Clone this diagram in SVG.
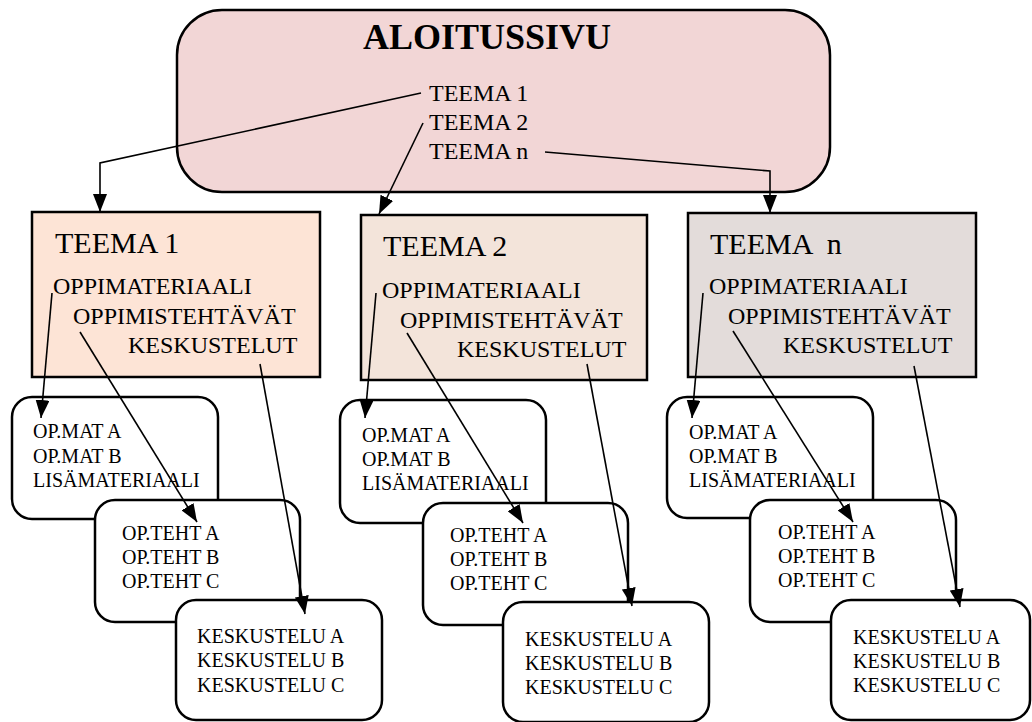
<svg xmlns="http://www.w3.org/2000/svg" width="1032" height="722" viewBox="0 0 1032 722">
  <style>
    text { font-family: "Liberation Serif", "Times New Roman", serif; fill: #000; }
    .title { font-size: 36px; font-weight: bold; }
    .toc { font-size: 24px; }
    .head { font-size: 30px; }
    .item { font-size: 24px; }
    .sub { font-size: 20px; }
    .box { stroke: #000; stroke-width: 2.5; }
    .small { fill: #fff; stroke: #000; stroke-width: 2.5; }
    .link { fill: none; stroke: #000; stroke-width: 1.6; marker-end: url(#arrow); }
  </style>
  <defs>
    <marker id="arrow" viewBox="0 0 18 14" refX="18" refY="7" markerWidth="18" markerHeight="14" markerUnits="userSpaceOnUse" orient="auto">
      <path d="M0,0 L18,7 L0,14 Z" fill="#000"/>
    </marker>
  </defs>
  <rect width="1032" height="722" fill="#fff"/>

  <!-- Start page -->
  <g id="aloitussivu">
    <rect class="box" x="177" y="10" width="653" height="182" rx="45" ry="45" fill="#f2d6d6"/>
    <text class="title" x="487" y="49" text-anchor="middle">ALOITUSSIVU</text>
    <text class="toc" x="429" y="101">TEEMA 1</text>
    <text class="toc" x="429" y="130">TEEMA 2</text>
    <text class="toc" x="429" y="159">TEEMA n</text>
  </g>

  <!-- Theme pages -->
  <g id="teema1">
    <rect class="box" x="32" y="212" width="288" height="165" fill="#fde4d6"/>
    <text class="head" x="55" y="253">TEEMA 1</text>
    <text class="item" x="53" y="294">OPPIMATERIAALI</text>
    <text class="item" x="73" y="324">OPPIMISTEHTÄVÄT</text>
    <text class="item" x="128" y="353">KESKUSTELUT</text>
  </g>
  <g id="teema2">
    <rect class="box" x="361" y="215" width="286" height="165" fill="#f3e4da"/>
    <text class="head" x="383" y="256">TEEMA 2</text>
    <text class="item" x="382" y="298">OPPIMATERIAALI</text>
    <text class="item" x="400" y="328">OPPIMISTEHTÄVÄT</text>
    <text class="item" x="457" y="357">KESKUSTELUT</text>
  </g>
  <g id="teeman">
    <rect class="box" x="688" y="213" width="288" height="164" fill="#e3dcda"/>
    <text class="head" x="710" y="254" xml:space="preserve">TEEMA  n</text>
    <text class="item" x="709" y="294">OPPIMATERIAALI</text>
    <text class="item" x="728" y="324">OPPIMISTEHTÄVÄT</text>
    <text class="item" x="783" y="353">KESKUSTELUT</text>
  </g>

  <!-- Column 1 sub pages -->
  <g id="opmat1">
    <rect class="small" x="12" y="397" width="206" height="122" rx="20"/>
    <text class="sub" x="33" y="438">OP.MAT A</text>
    <text class="sub" x="33" y="463">OP.MAT B</text>
    <text class="sub" x="33" y="487">LISÄMATERIAALI</text>
  </g>
  <g id="opteht1">
    <rect class="small" x="95" y="500" width="205" height="122" rx="20"/>
    <text class="sub" x="122" y="540">OP.TEHT A</text>
    <text class="sub" x="122" y="564">OP.TEHT B</text>
    <text class="sub" x="122" y="588">OP.TEHT C</text>
  </g>
  <g id="keskustelu1">
    <rect class="small" x="176" y="600" width="206" height="120" rx="20"/>
    <text class="sub" x="197" y="643">KESKUSTELU A</text>
    <text class="sub" x="197" y="667">KESKUSTELU B</text>
    <text class="sub" x="197" y="692">KESKUSTELU C</text>
  </g>

  <!-- Column 2 sub pages -->
  <g id="opmat2">
    <rect class="small" x="340" y="400" width="206" height="123" rx="20"/>
    <text class="sub" x="362" y="442">OP.MAT A</text>
    <text class="sub" x="362" y="466">OP.MAT B</text>
    <text class="sub" x="362" y="490">LISÄMATERIAALI</text>
  </g>
  <g id="opteht2">
    <rect class="small" x="423" y="503" width="205" height="122" rx="20"/>
    <text class="sub" x="450" y="542">OP.TEHT A</text>
    <text class="sub" x="450" y="566">OP.TEHT B</text>
    <text class="sub" x="450" y="590">OP.TEHT C</text>
  </g>
  <g id="keskustelu2">
    <rect class="small" x="503" y="602" width="206" height="120" rx="20"/>
    <text class="sub" x="525" y="646">KESKUSTELU A</text>
    <text class="sub" x="525" y="670">KESKUSTELU B</text>
    <text class="sub" x="525" y="694">KESKUSTELU C</text>
  </g>

  <!-- Column 3 sub pages -->
  <g id="opmat3">
    <rect class="small" x="667" y="397" width="206" height="121" rx="20"/>
    <text class="sub" x="689" y="439">OP.MAT A</text>
    <text class="sub" x="689" y="463">OP.MAT B</text>
    <text class="sub" x="689" y="487">LISÄMATERIAALI</text>
  </g>
  <g id="opteht3">
    <rect class="small" x="750" y="500" width="206" height="122" rx="20"/>
    <text class="sub" x="778" y="539">OP.TEHT A</text>
    <text class="sub" x="778" y="563">OP.TEHT B</text>
    <text class="sub" x="778" y="587">OP.TEHT C</text>
  </g>
  <g id="keskustelu3">
    <rect class="small" x="831" y="600" width="199" height="120" rx="20"/>
    <text class="sub" x="853" y="644">KESKUSTELU A</text>
    <text class="sub" x="853" y="668">KESKUSTELU B</text>
    <text class="sub" x="853" y="692">KESKUSTELU C</text>
  </g>

  <!-- Connectors -->
  <g id="connectors">
    <polyline class="link" points="421,93 100,163 100,212"/>
    <polyline class="link" points="423,123 379,214"/>
    <polyline class="link" points="545,152 770,171 770,213"/>

    <line class="link" x1="52" y1="293" x2="41" y2="418"/>
    <line class="link" x1="80" y1="332" x2="197" y2="522"/>
    <line class="link" x1="260" y1="364" x2="305" y2="614"/>

    <line class="link" x1="376" y1="293" x2="365" y2="418"/>
    <line class="link" x1="407" y1="333" x2="523" y2="523"/>
    <line class="link" x1="587" y1="364" x2="632" y2="606"/>

    <line class="link" x1="703" y1="293" x2="692" y2="418"/>
    <line class="link" x1="733" y1="331" x2="853" y2="522"/>
    <line class="link" x1="914" y1="366" x2="960" y2="607"/>
  </g>
</svg>
